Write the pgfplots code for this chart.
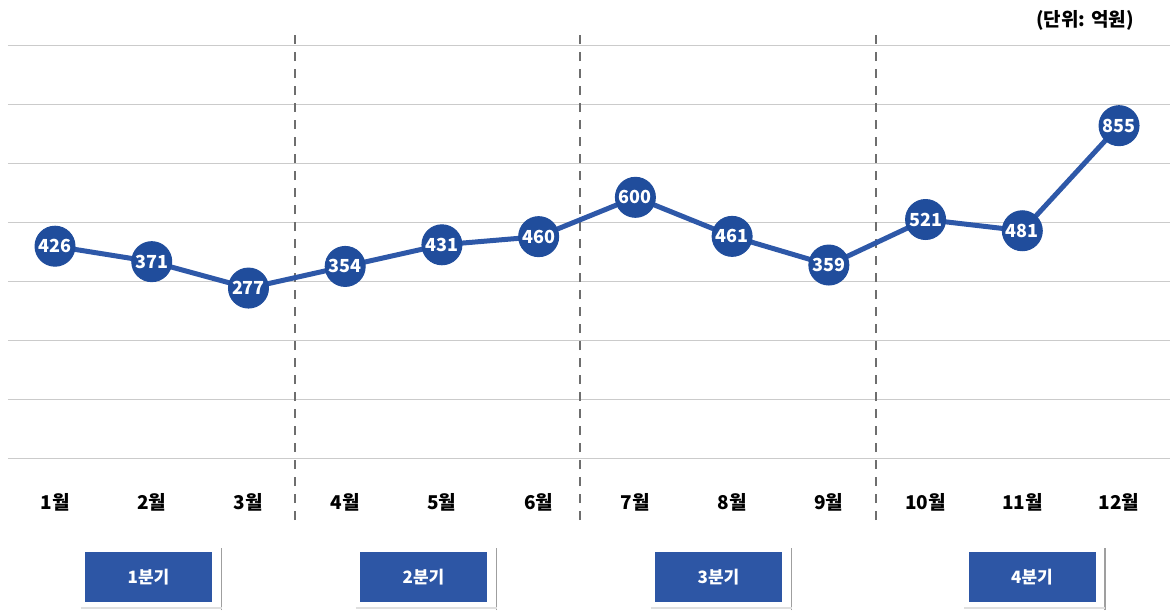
\documentclass[border=0pt]{standalone}
\usepackage{fontspec}
\setmainfont{Noto Sans CJK KR}
\usepackage{pgfplots}
\pgfplotsset{compat=1.18}
\definecolor{lineblue}{HTML}{2E58A8}
\definecolor{markblue}{HTML}{204D9C}
\definecolor{boxblue}{HTML}{2D56A5}
\definecolor{gridgray}{HTML}{CBCBCB}
\definecolor{dashgray}{HTML}{6E6E6E}
\begin{document}
\begin{tikzpicture}[x=0.5pt,y=0.5pt]
\useasboundingbox (0,0) rectangle (1170,611);
\begin{axis}[
  at={(4pt,76.2pt)}, anchor=south west,
  scale only axis, width=581pt, height=206.5pt,
  xmin=-0.486, xmax=11.527, ymin=-330, ymax=1140,
  ytick={-330,-120,90,300,510,720,930,1140}, yticklabels={},
  ymajorgrids, major grid style={gridgray, line width=0.75pt},
  axis line style={draw=none}, major tick length=0pt,
  xtick={0,...,11},
  xticklabels={1월,2월,3월,4월,5월,6월,7월,8월,9월,10월,11월,12월},
  xticklabel style={font=\bfseries\fontsize{9.5}{10}\selectfont, anchor=center, yshift=-22pt},
  clip=false,
  /pgf/number format/assume math mode=true,
]
\draw[dashgray, dash pattern=on 4.5pt off 4pt, line width=0.8pt] (axis cs:2.48,-549) -- (axis cs:2.48,1177);
\draw[dashgray, dash pattern=on 4.5pt off 4pt, line width=0.8pt] (axis cs:5.43,-549) -- (axis cs:5.43,1177);
\draw[dashgray, dash pattern=on 4.5pt off 4pt, line width=0.8pt] (axis cs:8.49,-549) -- (axis cs:8.49,1177);
\addplot[lineblue, line width=2.5pt, mark=*, mark size=10pt,
  mark options={fill=markblue, draw=markblue, line width=0.5pt},
  nodes near coords, nodes near coords align={center},
  every node near coord/.append style={white, font=\bfseries\fontsize{9}{9}\selectfont}]
  coordinates {(0,426) (1,371) (2,277) (3,354) (4,431) (5,460) (6,600) (7,461) (8,359) (9,521) (10,481) (11,855)};
\end{axis}
\foreach \cx/\t in {148.5/1분기, 423.5/2분기, 718.5/3분기, 1032/4분기}{
  \draw[gray!75, line width=0.7pt] (\cx+73,1) -- (\cx+73,63);
  \draw[gray!25, line width=0.6pt] (\cx-68,3) -- (\cx+73,3);
  \fill[boxblue] (\cx-63.5,9) rectangle (\cx+63.5,59);
  \node[white, font=\bfseries\fontsize{8.5}{9}\selectfont] at (\cx,34) {\t};
}
\node[font=\bfseries\fontsize{9.5}{10}\selectfont] at (1085,591) {(단위: 억원)};
\end{tikzpicture}
\end{document}
